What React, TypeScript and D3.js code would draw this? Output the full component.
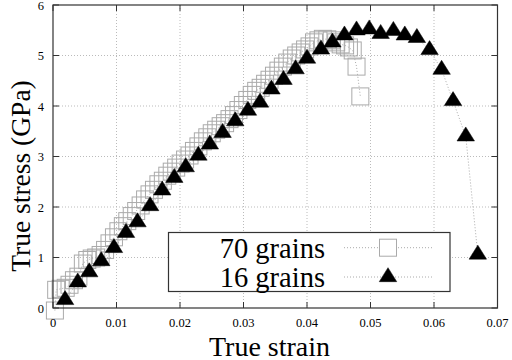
import React from "react";
import * as d3 from "d3";

const xTicks = [0, 0.01, 0.02, 0.03, 0.04, 0.05, 0.06, 0.07];
const xTickLabels = ["0", "0.01", "0.02", "0.03", "0.04", "0.05", "0.06", "0.07"];
const yTicks = [0, 1, 2, 3, 4, 5, 6];
const yTickLabels = ["0", "1", "2", "3", "4", "5", "6"];

const seriesNames = ["70 grains", "16 grains"];

// 70 grains (hollow squares)
const strain70 = [
  0.0003, 0.0005, 0.0012, 0.0020, 0.0026, 0.0033, 0.0040, 0.0047, 0.0054, 0.0061,
  0.0068, 0.0075, 0.0082, 0.0089, 0.0096, 0.0103, 0.0110, 0.0117, 0.0124, 0.0131,
  0.0138, 0.0145, 0.0152, 0.0159, 0.0166, 0.0173, 0.0180, 0.0187, 0.0194, 0.0201,
  0.0208, 0.0215, 0.0222, 0.0229, 0.0236, 0.0243, 0.0250, 0.0257, 0.0264, 0.0271,
  0.0278, 0.0285, 0.0292, 0.0299, 0.0306, 0.0313, 0.0320, 0.0327, 0.0334, 0.0341,
  0.0348, 0.0355, 0.0362, 0.0369, 0.0376, 0.0383, 0.0390, 0.0397, 0.0404, 0.0411,
  0.0418, 0.0425, 0.0432, 0.0439, 0.0446, 0.0453, 0.0460, 0.0466, 0.0472, 0.0478,
  0.0484,
];
const stress70 = [
  -0.05, 0.36, 0.38, 0.40, 0.46, 0.55, 0.62, 0.88, 0.95, 0.98,
  1.00, 1.05, 1.15, 1.28, 1.40, 1.52, 1.62, 1.72, 1.82, 1.92,
  2.03, 2.15, 2.25, 2.34, 2.45, 2.52, 2.62, 2.70, 2.78, 2.86,
  2.94, 3.02, 3.11, 3.20, 3.30, 3.38, 3.46, 3.53, 3.60, 3.66,
  3.74, 3.82, 3.92, 4.02, 4.12, 4.22, 4.30, 4.36, 4.44, 4.52,
  4.60, 4.70, 4.78, 4.86, 4.94, 5.00, 5.06, 5.12, 5.18, 5.26,
  5.30, 5.33, 5.32, 5.30, 5.26, 5.22, 5.20, 5.16, 5.10, 4.78,
  4.19,
];

// 16 grains (filled triangles)
const strain16 = [
  0.0019, 0.0039, 0.0057, 0.0076, 0.0096, 0.0115, 0.0133, 0.0153, 0.0172, 0.0191,
  0.0209, 0.0229, 0.0247, 0.0267, 0.0287, 0.0307, 0.0326, 0.0344, 0.0363, 0.0382,
  0.0400, 0.0422, 0.0440, 0.0459, 0.0478, 0.0498, 0.0516, 0.0536, 0.0554, 0.0573,
  0.0593, 0.0612, 0.0630, 0.0650, 0.0669,
];
const stress16 = [
  0.16, 0.51, 0.71, 0.93, 1.19, 1.49, 1.70, 2.02, 2.33, 2.58,
  2.79, 3.02, 3.24, 3.47, 3.70, 3.91, 4.07, 4.33, 4.52, 4.73,
  4.94, 5.12, 5.26, 5.40, 5.50, 5.52, 5.43, 5.49, 5.40, 5.35,
  5.11, 4.72, 4.10, 3.40, 1.06,
];

const FONT = "'Liberation Serif', 'DejaVu Serif', serif";

const W = 512;
const H = 360;
const left = 53;
const right = 497.5;
const top = 5;
const bottom = 308;

const SQ = 17;
const TRI_W = 17.5;
const TRI_H = 14;

function triPath(cx: number, cy: number) {
  const a = cy - (2 / 3) * TRI_H;
  const b = cy + (1 / 3) * TRI_H;
  return `M${cx},${a}L${cx + TRI_W / 2},${b}L${cx - TRI_W / 2},${b}Z`;
}

export default function App() {
  const x = d3.scaleLinear().domain([0, 0.07]).range([left, right]);
  const y = d3.scaleLinear().domain([0, 6]).range([bottom, top]);

  const pts70 = strain70.map((s, i) => [x(s), y(stress70[i])] as [number, number]);
  const pts16 = strain16.map((s, i) => [x(s), y(stress16[i])] as [number, number]);
  const line = d3.line<[number, number]>().x((d) => d[0]).y((d) => d[1]);

  const legX0 = 168.5;
  const legX1 = 450;
  const legY0 = 232.5;
  const legY1 = 291.5;
  const rowY = [247.7, 277];
  const textRight = 325;
  const sampleX0 = 344;
  const sampleX1 = 432;
  const sampleMid = 388;

  return (
    <svg
      width={W}
      height={H}
      style={{ position: "absolute", left: 0, top: 0, background: "#fff" }}
    >
      <rect x={0} y={0} width={W} height={H} fill="#fff" />
      {/* grid */}
      {xTicks.slice(1, -1).map((t) => (
        <line
          key={"gx" + t}
          x1={x(t)}
          x2={x(t)}
          y1={top}
          y2={bottom}
          stroke="#bbb"
          strokeWidth={1}
          strokeDasharray="1,2"
        />
      ))}
      {yTicks.slice(1, -1).map((t) => (
        <line
          key={"gy" + t}
          x1={left}
          x2={right}
          y1={y(t)}
          y2={y(t)}
          stroke="#bbb"
          strokeWidth={1}
          strokeDasharray="1,2"
        />
      ))}
      {/* connecting lines */}
      <path d={line(pts70) || ""} fill="none" stroke="#aaa" strokeWidth={1} strokeDasharray="1,2" />
      <path d={line(pts16) || ""} fill="none" stroke="#aaa" strokeWidth={1} strokeDasharray="1,2" />
      {/* squares */}
      {pts70.map((p, i) => (
        <rect
          key={"s" + i}
          x={p[0] - SQ / 2}
          y={p[1] - SQ / 2}
          width={SQ}
          height={SQ}
          fill="none"
          stroke="#aaa"
          strokeWidth={1}
        />
      ))}
      {/* triangles */}
      {pts16.map((p, i) => (
        <path key={"t" + i} d={triPath(p[0], p[1])} fill="#000" stroke="#000" strokeWidth={0.5} />
      ))}
      {/* legend */}
      <rect
        x={legX0}
        y={legY0}
        width={legX1 - legX0}
        height={legY1 - legY0}
        fill="#fff"
        stroke="#333"
        strokeWidth={1.2}
      />
      {seriesNames.map((n, i) => (
        <g key={"leg" + i}>
          <text
            x={textRight}
            y={rowY[i] + 10}
            textAnchor="end"
            fontFamily={FONT}
            fontSize={28.5}
            fill="#000"
          >
            {n}
          </text>
          <line
            x1={sampleX0}
            x2={sampleX1}
            y1={rowY[i]}
            y2={rowY[i]}
            stroke="#aaa"
            strokeWidth={1}
            strokeDasharray="1,2"
          />
          {i === 0 ? (
            <rect
              x={sampleMid - SQ / 2}
              y={rowY[i] - SQ / 2}
              width={SQ}
              height={SQ}
              fill="#fff"
              stroke="#aaa"
              strokeWidth={1}
            />
          ) : (
            <path d={triPath(sampleMid, rowY[i])} fill="#000" stroke="#000" strokeWidth={0.5} />
          )}
        </g>
      ))}
      {/* ticks */}
      {xTicks.map((t) => (
        <g key={"xt" + t}>
          <line x1={x(t)} x2={x(t)} y1={bottom} y2={bottom - 6} stroke="#333" />
          <line x1={x(t)} x2={x(t)} y1={top} y2={top + 6} stroke="#333" />
        </g>
      ))}
      {yTicks.map((t) => (
        <g key={"yt" + t}>
          <line x1={left} x2={left + 6} y1={y(t)} y2={y(t)} stroke="#333" />
          <line x1={right} x2={right - 6} y1={y(t)} y2={y(t)} stroke="#333" />
        </g>
      ))}
      {/* frame */}
      <rect
        x={left}
        y={top}
        width={right - left}
        height={bottom - top}
        fill="none"
        stroke="#333"
        strokeWidth={1.2}
      />
      {/* tick labels */}
      {xTicks.map((t, i) => (
        <text
          key={"xl" + t}
          x={x(t)}
          y={327}
          textAnchor="middle"
          fontFamily={FONT}
          fontSize={12.5}
          fill="#000"
        >
          {xTickLabels[i]}
        </text>
      ))}
      {yTicks.map((t, i) => (
        <text
          key={"yl" + t}
          x={44}
          y={y(t) + 4.5}
          textAnchor="end"
          fontFamily={FONT}
          fontSize={12.5}
          fill="#000"
        >
          {yTickLabels[i]}
        </text>
      ))}
      {/* axis titles */}
      <text
        x={269.5}
        y={355.5}
        textAnchor="middle"
        fontFamily={FONT}
        fontSize={28}
        fill="#000"
      >
        True strain
      </text>
      <text
        transform={`translate(30,176) rotate(-90)`}
        textAnchor="middle"
        fontFamily={FONT}
        fontSize={27.5}
        fill="#000"
      >
        True stress (GPa)
      </text>
    </svg>
  );
}
